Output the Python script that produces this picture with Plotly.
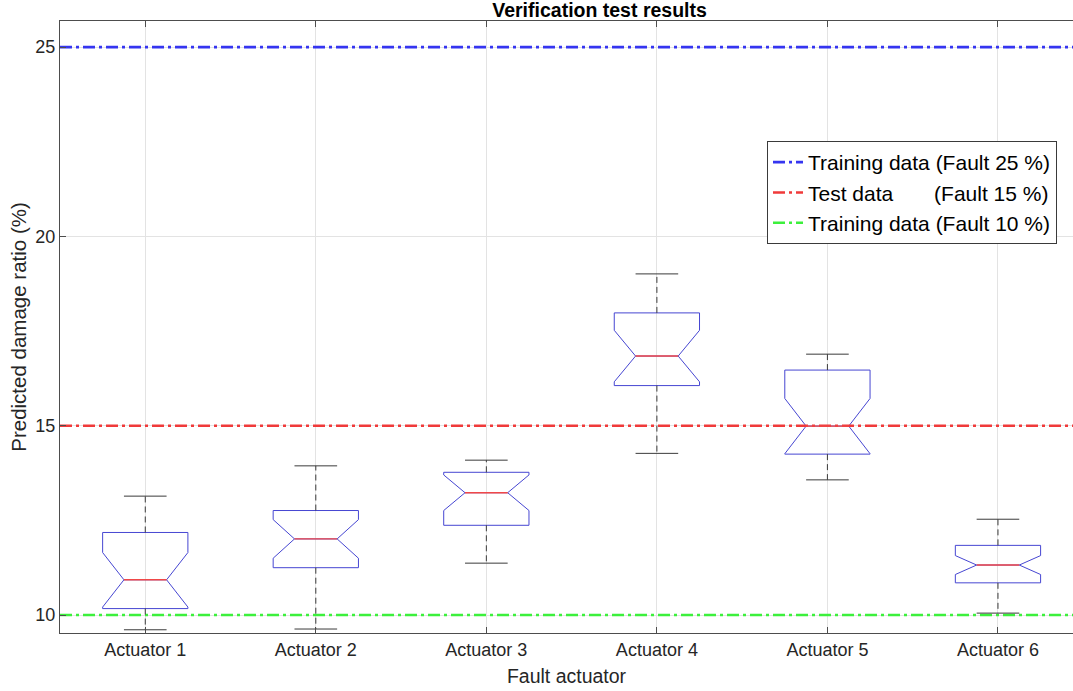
import plotly.graph_objects as go

# ---- data ----
actuators = ["Actuator 1", "Actuator 2", "Actuator 3", "Actuator 4", "Actuator 5", "Actuator 6"]
positions = [1, 2, 3, 4, 5, 6]
lower_whisker = [9.61, 9.63, 11.37, 14.27, 13.57, 10.05]
q1 = [10.17, 11.25, 12.37, 16.06, 14.25, 10.85]
median = [10.93, 12.01, 13.23, 16.84, 14.99, 11.32]
q3 = [12.18, 12.76, 13.77, 17.98, 16.47, 11.84]
upper_whisker = [13.14, 13.94, 14.09, 19.01, 16.89, 12.53]
notch_span = [0.72, 0.51, 0.47, 0.68, 0.73, 0.25]

ref_names = ["Training data (Fault 25 %)",
             "Test data" + "\u00a0" * 7 + "(Fault 15 %)",
             "Training data (Fault 10 %)"]
ref_levels = [25, 15, 10]
ref_colors = ["#3535f0", "#f03a3a", "#3cf03c"]

y_ticks = [10, 15, 20, 25]
x_range = [0.5, 6.44]
y_range = [9.525, 25.69]

BOX_W = 0.5
CAP_HALF = 0.125
FONT = "Liberation Sans, Arial, sans-serif"

fig = go.Figure()

# reference lines
for name, lvl, col in zip(ref_names, ref_levels, ref_colors):
    fig.add_trace(go.Scatter(
        x=[x_range[0], 6.5], y=[lvl, lvl], mode="lines", name=name,
        line=dict(color=col, width=2.6, dash="12px,4px,3px,4px"),
        hoverinfo="skip"))

# whiskers (dashed) and caps
wx, wy, cx, cy = [], [], [], []
for p, lw, a, b, uw in zip(positions, lower_whisker, q1, q3, upper_whisker):
    wx += [p, p, None, p, p, None]
    wy += [b, uw, None, a, lw, None]
    cx += [p - CAP_HALF, p + CAP_HALF, None, p - CAP_HALF, p + CAP_HALF, None]
    cy += [uw, uw, None, lw, lw, None]
fig.add_trace(go.Scatter(x=wx, y=wy, mode="lines", showlegend=False,
                         line=dict(color="#3a3a3a", width=1, dash="6px,4px"),
                         hoverinfo="skip"))
fig.add_trace(go.Scatter(x=cx, y=cy, mode="lines", showlegend=False,
                         line=dict(color="#3a3a3a", width=1), hoverinfo="skip"))

# notched boxes
fig.add_trace(go.Box(
    x=positions, q1=q1, median=median, q3=q3,
    lowerfence=q1, upperfence=q3, notchspan=notch_span,
    notched=True, notchwidth=0.25, width=BOX_W, whiskerwidth=0,
    line=dict(color="#4646d2", width=1), fillcolor="rgba(0,0,0,0)",
    boxpoints=False, showlegend=False, hoverinfo="skip"))

# red median lines
mx, my = [], []
for p, m in zip(positions, median):
    mx += [p - BOX_W / 4, p + BOX_W / 4, None]
    my += [m, m, None]
fig.add_trace(go.Scatter(x=mx, y=my, mode="lines", showlegend=False,
                         line=dict(color="#f04848", width=1.4), hoverinfo="skip"))

fig.update_layout(
    width=1073, height=691,
    margin=dict(l=60, r=0, t=21, b=58),
    paper_bgcolor="white", plot_bgcolor="white",
    font=dict(family=FONT, color="#262626", size=18),
    title=dict(text="<b>Verification test results</b>", x=(60 + 1083) / 2 / 1073,
               xanchor="center", xref="paper", y=1 - 10 / 691, yref="container",
               yanchor="middle", font=dict(size=19.5, color="#000000")),
    showlegend=True,
    legend=dict(x=(767 - 60) / 1013, y=1 - (141 - 21) / 612, xanchor="left", yanchor="top",
                bgcolor="white", bordercolor="#3a3a3a", borderwidth=1,
                font=dict(size=21, color="#000000"), tracegroupgap=0,
                itemwidth=30),
)
fig.update_xaxes(
    range=x_range, tickmode="array", tickvals=positions, ticktext=actuators,
    showgrid=True, gridcolor="#e3e3e3", gridwidth=1, zeroline=False,
    showline=True, linecolor="#4d4d4d", linewidth=1, mirror="ticks",
    ticks="inside", ticklen=6, tickcolor="#4d4d4d",
    tickfont=dict(size=18, color="#262626"),
    title=dict(text="Fault actuator", font=dict(size=19.5, color="#262626"), standoff=10),
)
fig.update_yaxes(
    range=y_range, tickmode="array", tickvals=y_ticks,
    showgrid=True, gridcolor="#e3e3e3", gridwidth=1, zeroline=False,
    showline=True, linecolor="#4d4d4d", linewidth=1,
    ticks="inside", ticklen=6, tickcolor="#4d4d4d",
    tickfont=dict(size=18, color="#262626"),
    title=dict(text="Predicted damage ratio (%)", font=dict(size=20.5, color="#262626"), standoff=3),
)

fig.write_html("out.html")
